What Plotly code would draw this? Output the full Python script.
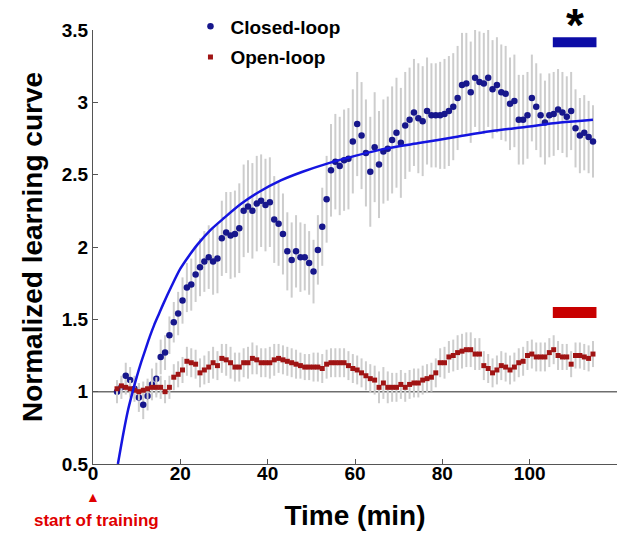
import numpy as np
import plotly.graph_objects as go

# ---------------- data ----------------
time_min = np.arange(5.5, 115.0, 1.0)  # 110 one-minute samples

closed_loop = [
    1.00, 1.03, 1.11, 1.08, 1.02, 0.96, 0.91, 0.97, 1.05, 1.09,
    1.24, 1.27, 1.39, 1.48, 1.54, 1.63, 1.72, 1.74, 1.81, 1.86,
    1.90, 1.93, 1.90, 1.92, 2.06, 2.10, 2.08, 2.09, 2.13, 2.25,
    2.28, 2.25, 2.30, 2.32, 2.29, 2.31, 2.19, 2.16, 2.09, 1.97,
    1.91, 1.97, 1.93, 1.93, 1.89, 1.83, 1.98, 2.14, 2.33, 2.53,
    2.59, 2.56, 2.60, 2.61, 2.73, 2.85, 2.77, 2.65, 2.52, 2.69,
    2.57, 2.66, 2.68, 2.74, 2.79, 2.72, 2.84, 2.88, 2.93, 2.89,
    2.87, 2.94, 2.91, 2.91, 2.91, 2.92, 2.94, 2.97, 3.03, 3.12,
    3.13, 3.07, 3.17, 3.14, 3.13, 3.17, 3.09, 3.12, 3.07, 3.06,
    2.99, 3.01, 2.88, 2.88, 2.91, 3.03, 2.97, 2.91, 2.86, 2.91,
    2.92, 2.95, 2.93, 2.90, 2.94, 2.82, 2.77, 2.79, 2.76, 2.73,
]
closed_err = [
    0.08, 0.08, 0.09, 0.09, 0.09, 0.10, 0.10, 0.10, 0.11, 0.11,
    0.12, 0.12, 0.13, 0.14, 0.15, 0.16, 0.17, 0.18, 0.19, 0.20,
    0.21, 0.22, 0.23, 0.24, 0.26, 0.28, 0.30, 0.30, 0.31, 0.32,
    0.32, 0.33, 0.33, 0.32, 0.32, 0.31, 0.30, 0.29, 0.28, 0.27,
    0.26, 0.25, 0.24, 0.23, 0.22, 0.22, 0.24, 0.27, 0.30, 0.32,
    0.33, 0.34, 0.35, 0.35, 0.36, 0.36, 0.37, 0.37, 0.38, 0.38,
    0.37, 0.36, 0.36, 0.37, 0.38, 0.38, 0.37, 0.36, 0.37, 0.38,
    0.38, 0.37, 0.36, 0.36, 0.37, 0.38, 0.38, 0.37, 0.36, 0.36,
    0.35, 0.35, 0.34, 0.35, 0.35, 0.34, 0.34, 0.33, 0.33, 0.33,
    0.32, 0.32, 0.31, 0.31, 0.30, 0.30, 0.30, 0.29, 0.29, 0.29,
    0.29, 0.28, 0.28, 0.28, 0.27, 0.27, 0.26, 0.26, 0.25, 0.25,
]

open_loop = [
    1.02, 1.04, 1.03, 1.02, 1.01, 1.00, 1.01, 1.02, 1.03, 1.03,
    1.03, 1.00, 1.03, 1.10, 1.12, 1.15, 1.21, 1.20, 1.19, 1.13,
    1.15, 1.17, 1.20, 1.18, 1.23, 1.22, 1.20, 1.17, 1.17, 1.20,
    1.20, 1.23, 1.22, 1.20, 1.20, 1.20, 1.22, 1.23, 1.22, 1.21,
    1.20, 1.19, 1.18, 1.17, 1.17, 1.17, 1.17, 1.16, 1.19, 1.20,
    1.20, 1.20, 1.20, 1.18, 1.16, 1.15, 1.13, 1.11, 1.09, 1.08,
    1.03, 1.06, 1.03, 1.03, 1.03, 1.05, 1.03, 1.05, 1.06, 1.06,
    1.08, 1.09, 1.10, 1.13, 1.20, 1.20, 1.24, 1.25, 1.27, 1.28,
    1.29, 1.29, 1.26, 1.26, 1.18, 1.16, 1.13, 1.15, 1.18, 1.17,
    1.15, 1.17, 1.20, 1.21, 1.25, 1.26, 1.24, 1.24, 1.24, 1.27,
    1.29, 1.25, 1.24, 1.24, 1.19, 1.25, 1.25, 1.24, 1.23, 1.26,
]
open_err = [
    0.05, 0.05, 0.05, 0.06, 0.06, 0.06, 0.06, 0.07, 0.07, 0.07,
    0.08, 0.08, 0.08, 0.09, 0.09, 0.09, 0.10, 0.10, 0.10, 0.10,
    0.10, 0.11, 0.11, 0.10, 0.10, 0.11, 0.11, 0.10, 0.10, 0.10,
    0.11, 0.11, 0.10, 0.10, 0.10, 0.11, 0.11, 0.10, 0.10, 0.10,
    0.10, 0.10, 0.09, 0.09, 0.09, 0.10, 0.10, 0.10, 0.10, 0.10,
    0.10, 0.10, 0.10, 0.10, 0.10, 0.10, 0.10, 0.10, 0.10, 0.10,
    0.11, 0.11, 0.11, 0.10, 0.10, 0.10, 0.10, 0.10, 0.10, 0.10,
    0.10, 0.10, 0.10, 0.10, 0.10, 0.11, 0.11, 0.11, 0.12, 0.12,
    0.12, 0.12, 0.11, 0.11, 0.10, 0.10, 0.10, 0.10, 0.10, 0.10,
    0.10, 0.10, 0.10, 0.10, 0.10, 0.10, 0.10, 0.10, 0.10, 0.10,
    0.10, 0.10, 0.09, 0.09, 0.09, 0.09, 0.09, 0.09, 0.09, 0.09,
]

# fitted curve for the closed-loop group
fit_t = [5.7, 7, 8, 9, 10, 11, 12, 13, 14, 15, 16, 18, 20, 22, 24, 27, 30,
         34, 38, 43, 48, 54, 60, 67, 75, 83, 91, 99, 107, 114.5]
fit_y = [0.50, 0.72, 0.87, 0.99, 1.10, 1.20, 1.29, 1.38, 1.46, 1.53, 1.60,
         1.73, 1.85, 1.94, 2.02, 2.12, 2.20, 2.30, 2.38, 2.46, 2.52, 2.58,
         2.63, 2.68, 2.72, 2.76, 2.80, 2.83, 2.86, 2.88]

x_ticks = [0, 20, 40, 60, 80, 100, 120]
y_ticks = [0.5, 1, 1.5, 2, 2.5, 3, 3.5]
y_tick_text = ["0.5", "1", "1.5", "2", "2.5", "3", "3.5"]

FONT = "Liberation Sans, Arial, Helvetica, sans-serif"

fig = go.Figure()
fig.add_trace(go.Scatter(
    x=time_min, y=closed_loop, mode="markers", name="Closed-loop", legendgroup="cl",
    marker=dict(color="#17178c", size=6.5),
    error_y=dict(type="data", array=closed_err, color="#cdcdcd", thickness=2, width=0),
))
fig.add_trace(go.Scatter(
    x=time_min, y=open_loop, mode="markers", name="Open-loop", legendgroup="ol",
    marker=dict(color="#a01414", size=5, symbol="square"),
    error_y=dict(type="data", array=open_err, color="#cdcdcd", thickness=2, width=0),
))
fig.add_trace(go.Scatter(
    x=fit_t, y=fit_y, mode="lines", showlegend=False, hoverinfo="skip",
    line=dict(color="#1515e0", width=2.5, shape="spline", smoothing=0.8),
))

# the page body adds an 8px offset, so the figure is 8px smaller than the window
fig.update_layout(
    width=624, height=531,
    margin=dict(l=85, r=15, t=22, b=75, autoexpand=False),
    paper_bgcolor="white", plot_bgcolor="white",
    font=dict(family=FONT, color="black"),
    legend=dict(x=0.186, y=1.052, xanchor="left", yanchor="top",
                bgcolor="rgba(0,0,0,0)", font=dict(size=19, weight="bold"),
                itemwidth=30, tracegroupgap=3),
    shapes=[
        dict(type="line", xref="x", yref="y", x0=0, x1=120, y0=1, y1=1,
             line=dict(color="#6e6e6e", width=1.5), layer="below"),
        dict(type="rect", xref="x", yref="y", x0=105.3, x1=115.3, y0=3.38, y1=3.45,
             fillcolor="#0c0ca6", line=dict(width=0)),
        dict(type="rect", xref="x", yref="y", x0=105.3, x1=115.3, y0=1.51, y1=1.585,
             fillcolor="#c80000", line=dict(width=0)),
    ],
    annotations=[
        dict(text="*", x=110.3, y=1.05, xref="x", yref="paper", showarrow=False,
             font=dict(size=46, weight="bold", color="black"), yanchor="top", yshift=11),
        dict(text="▲", x=0, y=-0.099, xref="x", yref="paper", showarrow=False,
             font=dict(size=14, color="#e00000")),
        dict(text="start of training", x=0.7, y=-0.156, xref="x", yref="paper",
             showarrow=False, font=dict(size=17, weight="bold", color="#e00000")),
    ],
)
fig.update_xaxes(
    range=[0, 120], tickvals=x_ticks, ticks="inside", ticklen=5, tickcolor="#555",
    showline=True, linecolor="#555", linewidth=1.2, showgrid=False, zeroline=False,
    tickfont=dict(size=19, weight="bold"), ticklabelstandoff=-8,
    title=dict(text="Time (min)", font=dict(size=28, weight="bold"), standoff=22),
)
fig.update_yaxes(
    range=[0.5, 3.5], tickvals=y_ticks, ticktext=y_tick_text, ticks="inside", ticklen=5,
    tickcolor="#555", showline=True, linecolor="#555", linewidth=1.2, showgrid=False,
    zeroline=False, tickfont=dict(size=19, weight="bold"),
    title=dict(text="Normalized learning curve", font=dict(size=28, weight="bold"), standoff=10),
)

fig.write_html("out.html")
